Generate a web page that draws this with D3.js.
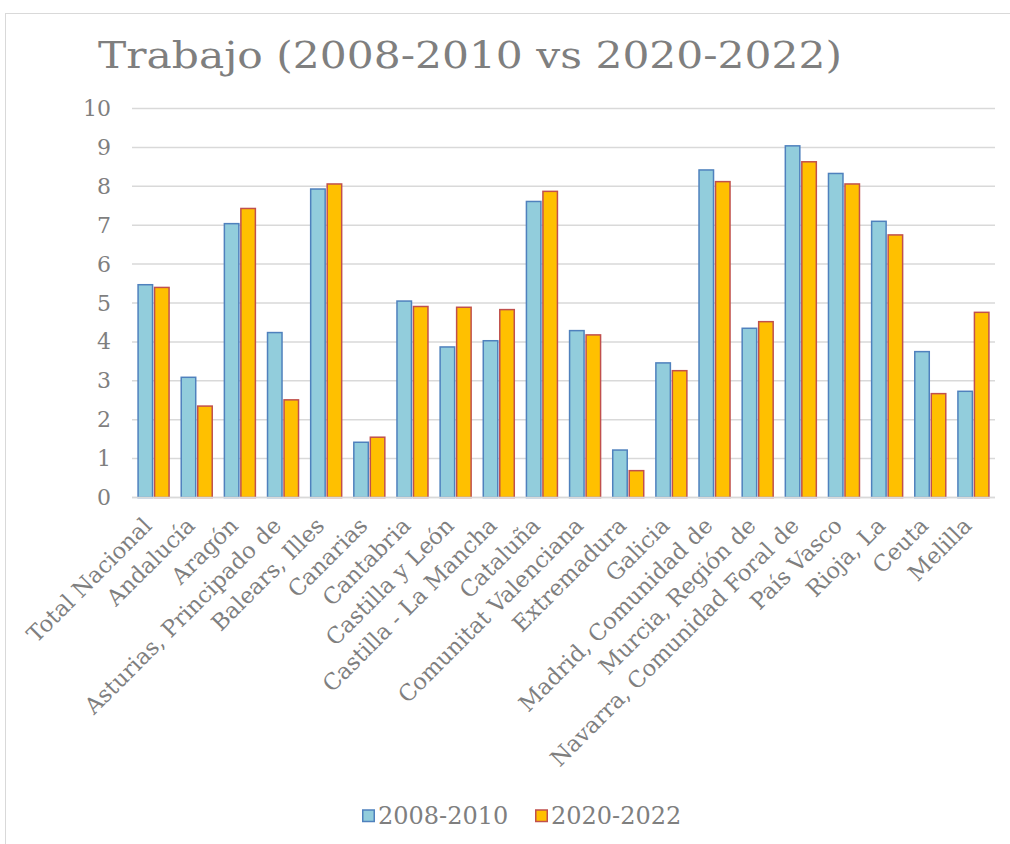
<!DOCTYPE html>
<html>
<head>
<meta charset="utf-8">
<script src="https://cdn.jsdelivr.net/npm/d3@7"></script>
<style>
  body { margin: 0; background: #fff; }
  text { font-family: "DejaVu Serif", serif; fill: #7f7f7f; }
</style>
</head>
<body>
<div id="chart"></div>
<script>
const categories = ["Total Nacional", "Andalucía", "Aragón", "Asturias, Principado de", "Balears, Illes",
  "Canarias", "Cantabria", "Castilla y León", "Castilla - La Mancha", "Cataluña",
  "Comunitat Valenciana", "Extremadura", "Galicia", "Madrid, Comunidad de", "Murcia, Región de",
  "Navarra, Comunidad Foral de", "País Vasco", "Rioja, La", "Ceuta", "Melilla"];
const series = ["2008-2010", "2020-2022"];
const values2008 = [5.47, 3.09, 7.04, 4.24, 7.93, 1.42, 5.05, 3.87, 4.03, 7.61,
  4.29, 1.22, 3.46, 8.42, 4.35, 9.04, 8.33, 7.10, 3.75, 2.73];
const values2020 = [5.40, 2.35, 7.43, 2.51, 8.06, 1.55, 4.91, 4.89, 4.83, 7.87,
  4.18, 0.69, 3.26, 8.12, 4.52, 8.63, 8.06, 6.75, 2.67, 4.76];
const yTicks = [0, 1, 2, 3, 4, 5, 6, 7, 8, 9, 10];

const fills = ["#92CDDC", "#FFC000"];
const strokes = ["#4F81BD", "#C0504D"];

const width = 1010, height = 844;
const plot = { left: 132, right: 995, top: 108.5, bottom: 497.5 };

const svg = d3.select("#chart").append("svg")
  .attr("width", width).attr("height", height);

// chart frame
svg.append("rect")
  .attr("x", 5.5).attr("y", 13.5)
  .attr("width", width).attr("height", height)
  .attr("fill", "none").attr("stroke", "#d9d9d9");

svg.append("text")
  .attr("x", 98).attr("y", 68)
  .attr("textLength", 744)
  .attr("lengthAdjust", "spacingAndGlyphs")
  .style("font-size", "37px")
  .text("Trabajo (2008-2010 vs 2020-2022)");

const x = d3.scaleBand().domain(categories).range([plot.left, plot.right]);
const y = d3.scaleLinear().domain([0, 10]).range([plot.bottom, plot.top]);

// gridlines
svg.append("g").selectAll("line")
  .data(yTicks).enter().append("line")
  .attr("x1", plot.left).attr("x2", plot.right)
  .attr("y1", d => y(d)).attr("y2", d => y(d))
  .attr("stroke", "#d9d9d9").attr("stroke-width", 1.5);

// y axis labels
const yAxis = svg.append("g")
  .attr("transform", `translate(${plot.left - 9},0)`)
  .call(d3.axisLeft(y).tickValues(yTicks).tickSize(0).tickPadding(12));
yAxis.select(".domain").remove();
yAxis.selectAll("text")
  .style("font-size", "22px").style("font-family", "DejaVu Serif").attr("fill", "#7f7f7f");

// bars
const barW = 14.5, gap = 2;
const data = categories.map((c, i) => ({ cat: c, vals: [values2008[i], values2020[i]] }));
const groups = svg.append("g").selectAll("g")
  .data(data).enter().append("g")
  .attr("transform", d => `translate(${x(d.cat) + x.bandwidth() / 2},0)`);

groups.selectAll("rect")
  .data(d => d.vals.map((v, k) => ({ v, k })))
  .enter().append("rect")
  .attr("x", d => d.k === 0 ? -barW - gap / 2 : gap / 2)
  .attr("y", d => y(d.v))
  .attr("width", barW)
  .attr("height", d => y(0) - y(d.v))
  .attr("fill", d => fills[d.k])
  .attr("stroke", d => strokes[d.k])
  .attr("stroke-width", 1.5);

// x axis line
svg.append("line")
  .attr("x1", plot.left).attr("x2", plot.right)
  .attr("y1", plot.bottom).attr("y2", plot.bottom)
  .attr("stroke", "#d9d9d9").attr("stroke-width", 1.5);

// category labels
svg.append("g").selectAll("text")
  .data(categories).enter().append("text")
  .attr("transform", d => `translate(${x(d) + x.bandwidth() / 2 - 6},${plot.bottom + 24}) rotate(-45)`)
  .attr("text-anchor", "end")
  .attr("dy", "0.35em")
  .style("font-size", "22.5px")
  .text(d => d);

// legend
const legend = svg.append("g").attr("transform", "translate(362,816)");
const legendX = [0, 173];
series.forEach((s, k) => {
  const g = legend.append("g").attr("transform", `translate(${legendX[k]},0)`);
  g.append("rect")
    .attr("x", 0.75).attr("y", -6)
    .attr("width", 11.5).attr("height", 11.5)
    .attr("fill", fills[k]).attr("stroke", strokes[k]).attr("stroke-width", 1.5);
  g.append("text")
    .attr("x", 16).attr("dy", "0.35em")
    .style("font-size", "24px")
    .text(s);
});
</script>
</body>
</html>
